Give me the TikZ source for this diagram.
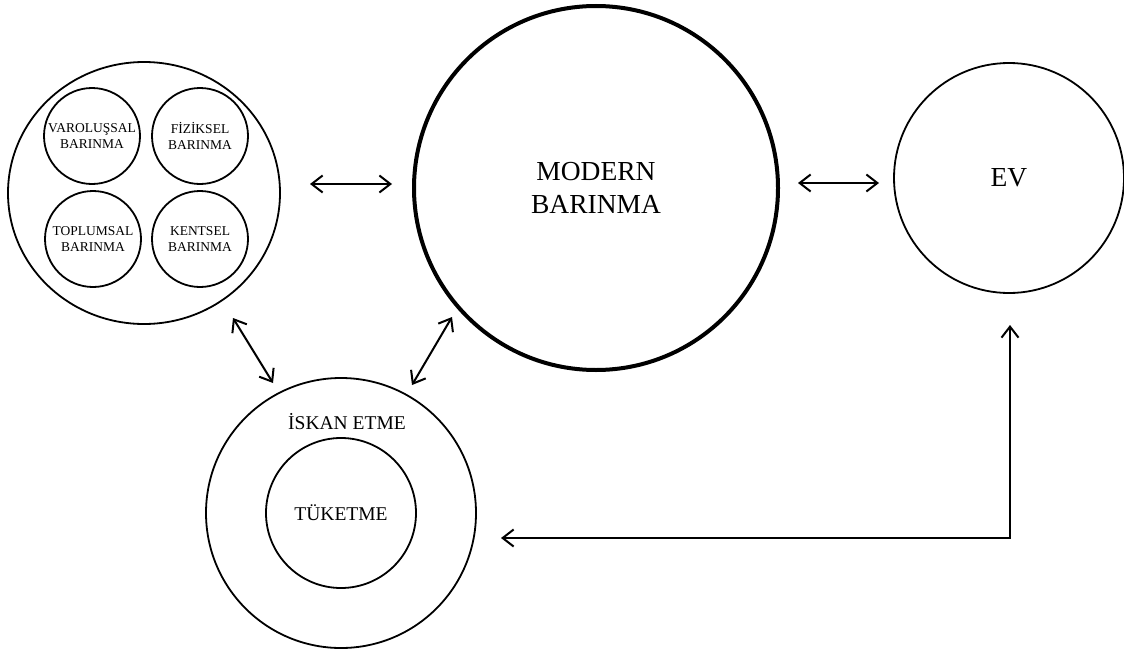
\documentclass[tikz,border=0pt]{standalone}
\usepackage{fontspec}
\setmainfont{Liberation Serif}
\usetikzlibrary{arrows.meta,shapes.geometric}

\begin{document}
\begin{tikzpicture}[x=1pt, y=-1pt,
  ring/.style={circle, draw, line width=1.8pt, inner sep=0pt, align=center},
  thickring/.style={ring, line width=4pt},
  smalltxt/.style={font=\fontsize{13.5}{16}\selectfont},
  bigtxt/.style={font=\fontsize{27.5}{33}\selectfont},
  midtxt/.style={font=\fontsize{19.5}{22}\selectfont},
  link/.style={line width=2pt, {Straight Barb[length=11pt, width=17pt, line width=2pt]}-{Straight Barb[length=11pt, width=17pt, line width=2pt]}}
]
\useasboundingbox (0,0) rectangle (1124,653);

% left group with its four kinds of shelter
\node[ellipse, draw, line width=1.8pt, inner sep=0pt,
      minimum width=272pt, minimum height=262pt] (group) at (144,193) {};
\node[ring, minimum size=96pt, smalltxt] (varol) at (92,136) {VAROLUŞSAL\\BARINMA};
\node[ring, minimum size=96pt, smalltxt] (fizik) at (200,136) {FİZİKSEL\\BARINMA};
\node[ring, minimum size=96pt, smalltxt] (toplum) at (93,239) {TOPLUMSAL\\BARINMA};
\node[ring, minimum size=96pt, smalltxt] (kent) at (200,239) {KENTSEL\\BARINMA};

% modern shelter
\node[thickring, minimum size=364pt, bigtxt] (modern) at (596,188) {MODERN\\BARINMA};

% home
\node[ring, minimum size=230pt, bigtxt] (ev) at (1009,178) {EV};

% dwelling and consumption
\node[ring, minimum size=270pt] (iskan) at (341,513) {};
\node[ring, minimum size=150pt, midtxt] (tuketme) at (341,513) {TÜKETME};
\node[midtxt] (iskanlbl) at (347,422) {İSKAN ETME};

% connector ends
\coordinate (gE) at (310,184);
\coordinate (mW) at (392,184);
\coordinate (mE) at (798,183);
\coordinate (eW) at (879,183);
\coordinate (gS) at (233,318);
\coordinate (iNW) at (273,383);
\coordinate (mSW) at (452,317);
\coordinate (iNE) at (412,385);
\coordinate (eS) at (1010,325);
\coordinate (iE) at (501,538);

\draw[link] (gE) -- (mW);
\draw[link] (mE) -- (eW);
\draw[link] (gS) -- (iNW);
\draw[link] (mSW) -- (iNE);
\draw[link] (iE) -- (eS |- iE) -- (eS);
\end{tikzpicture}
\end{document}
